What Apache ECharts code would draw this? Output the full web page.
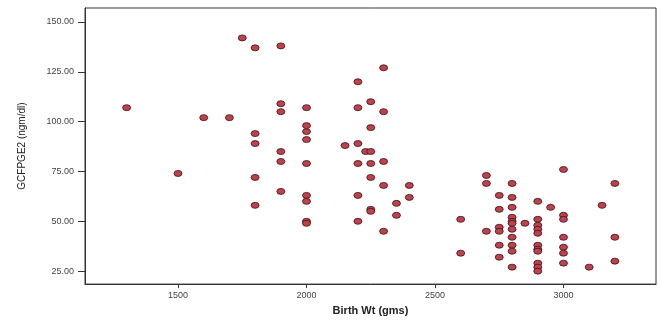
<!DOCTYPE html>
<html>
<head>
<meta charset="utf-8">
<script src="https://cdn.jsdelivr.net/npm/echarts@6/dist/echarts.min.js"></script>
<style>
  html, body { margin: 0; padding: 0; background: #fff; }
  #chart { width: 660px; height: 321px; }
</style>
</head>
<body>
<div id="chart"></div>
<script>
// birth weight (gms) and GCF PGE2 (ngm/dl), one entry per case
const birthWt = [
  1300, 1500, 1600, 1700, 1750,
  1800, 1800, 1800, 1800, 1800,
  1900, 1900, 1900, 1900, 1900, 1900,
  2000, 2000, 2000, 2000, 2000, 2000, 2000, 2000, 2000,
  2150,
  2200, 2200, 2200, 2200, 2200, 2200,
  2230,
  2250, 2250, 2250, 2250, 2250, 2250, 2250,
  2300, 2300, 2300, 2300, 2300,
  2350, 2350, 2400, 2400,
  2600, 2600,
  2700, 2700, 2700,
  2750, 2750, 2750, 2750, 2750, 2750,
  2800, 2800, 2800, 2800, 2800, 2800, 2800, 2800, 2800, 2800, 2800,
  2850,
  2900, 2900, 2900, 2900, 2900, 2900, 2900, 2900, 2900, 2900, 2900,
  2950,
  3000, 3000, 3000, 3000, 3000, 3000, 3000,
  3100, 3150,
  3200, 3200, 3200
];
const gcfPge2 = [
  107, 74, 102, 102, 142,
  137, 94, 89, 72, 58,
  138, 109, 105, 85, 80, 65,
  107, 98, 95, 91, 79, 63, 60, 50, 49,
  88,
  120, 107, 89, 79, 63, 50,
  85,
  110, 97, 85, 79, 72, 56, 55,
  127, 105, 80, 68, 45,
  59, 53, 68, 62,
  51, 34,
  73, 69, 45,
  63, 56, 47, 45, 38, 32,
  69, 62, 57, 52, 50, 49, 46, 42, 38, 35, 27,
  49,
  60, 51, 48, 46, 44, 38, 36, 35, 29, 27, 25,
  57,
  76, 53, 51, 42, 37, 34, 29,
  27, 58,
  69, 42, 30
];
const xTicks = [1500, 2000, 2500, 3000];
const yTicks = [25, 50, 75, 100, 125, 150];

const chart = echarts.init(document.getElementById("chart"));

const points = birthWt.map((w, i) => [w, gcfPge2[i]]);

const labelFont = {
  fontFamily: "Liberation Sans, Arial, sans-serif",
  fontSize: 9,
  color: "#444",
};

chart.setOption({
  animation: false,
  grid: {
    left: 85,
    right: 4,
    top: 8,
    bottom: 31,
    show: true,
    borderColor: "#333",
    borderWidth: 1,
  },
  xAxis: {
    type: "value",
    min: 1138,
    max: 3360,
    name: "Birth Wt (gms)",
    nameLocation: "middle",
    nameGap: 20,
    nameTextStyle: {
      fontFamily: "Liberation Sans, Arial, sans-serif",
      fontSize: 11,
      fontWeight: "bold",
      color: "#222",
    },
    axisLine: { show: true, lineStyle: { color: "#333" } },
    axisTick: {
      show: true,
      length: 4,
      customValues: xTicks,
      lineStyle: { color: "#333" },
    },
    axisLabel: Object.assign(
      { margin: 7, customValues: xTicks, formatter: (v) => String(v) },
      labelFont
    ),
    splitLine: { show: false },
  },
  yAxis: {
    type: "value",
    min: 18.5,
    max: 157,
    name: "GCFPGE2 (ngm/dl)",
    nameLocation: "middle",
    nameGap: 58,
    nameTextStyle: {
      fontFamily: "Liberation Sans, Arial, sans-serif",
      fontSize: 10,
      color: "#222",
    },
    axisLine: { show: true, lineStyle: { color: "#333" } },
    axisTick: {
      show: true,
      length: 7,
      customValues: yTicks,
      lineStyle: { color: "#333" },
    },
    axisLabel: Object.assign(
      {
        margin: 11,
        customValues: yTicks,
        formatter: (v) => v.toFixed(2),
      },
      labelFont
    ),
    splitLine: { show: false },
  },
  series: [
    {
      type: "scatter",
      data: points,
      symbol: "circle",
      symbolSize: [8, 6],
      itemStyle: {
        color: "#c0404c",
        borderColor: "#3a1416",
        borderWidth: 0.8,
        opacity: 1,
      },
    },
  ],
});
</script>
</body>
</html>
